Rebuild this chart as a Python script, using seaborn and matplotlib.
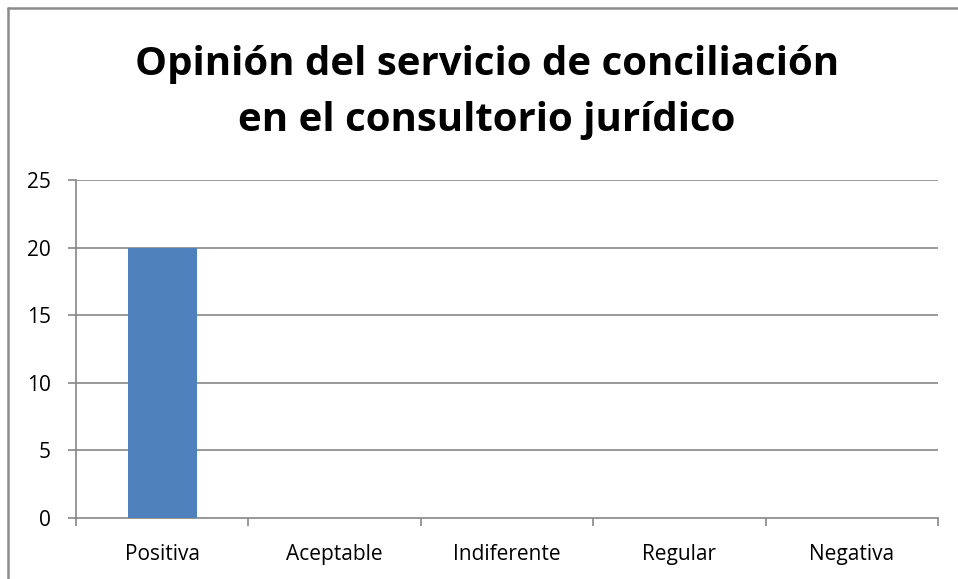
import matplotlib
matplotlib.use("Agg")
import matplotlib.pyplot as plt
import seaborn as sns
import pandas as pd
from matplotlib.lines import Line2D

categories = ["Positiva", "Aceptable", "Indiferente", "Regular", "Negativa"]
values = [20, 0, 0, 0, 0]
yticks = [0, 5, 10, 15, 20, 25]
title_lines = ["Opinión del servicio de conciliación", "en el consultorio jurídico"]

sns.set_theme(style="white")
plt.rcParams["font.family"] = ["Open Sans", "DejaVu Sans"]

W, H = 958, 579
fig = plt.figure(figsize=(W / 100, H / 100), dpi=100)
ax = fig.add_axes([76 / W, 1 - 518 / H, (938 - 76) / W, (518 - 180) / H])

df = pd.DataFrame({"cat": categories, "val": values})
sns.barplot(data=df, x="cat", y="val", color="#4F81BD", saturation=1, width=0.4,
            linewidth=0, edgecolor="none", ax=ax, zorder=3)

ax.set_xlim(-0.5, len(categories) - 0.5)
ax.set_ylim(0, 25)
ax.set_yticks(yticks)
ax.set_yticklabels([str(t) for t in yticks], fontsize=15, color="black")
ax.set_xticks(range(len(categories)))
ax.set_xticklabels(categories, fontsize=15, color="black")
ax.set_xlabel("")
ax.set_ylabel("")

grid_c = "#868686"
for t in yticks[1:]:
    ax.axhline(t, color=grid_c, lw=1.2, zorder=1)
for s in ["top", "right"]:
    ax.spines[s].set_visible(False)
for s in ["left", "bottom"]:
    ax.spines[s].set_color(grid_c)
    ax.spines[s].set_linewidth(1.2)

ax.tick_params(axis="y", length=6, width=1.2, color=grid_c, pad=12, left=True)
ax.tick_params(axis="x", length=0, pad=19)
ax.set_xticks([i - 0.5 for i in range(len(categories) + 1)], minor=True)
ax.tick_params(axis="x", which="minor", length=6, width=1.2, color=grid_c, bottom=True)

for txt, base in zip(title_lines, [75, 131]):
    fig.text(487 / W, 1 - base / H, txt, ha="center", va="baseline", fontsize=29,
             fontweight="bold", color="black")

border_c = "#8C8C8C"
fig.add_artist(Line2D([7.5 / W, 1.0], [1 - 7.5 / H, 1 - 7.5 / H], color=border_c, lw=1.8, transform=fig.transFigure))
fig.add_artist(Line2D([7.5 / W, 7.5 / W], [0, 1 - 7.5 / H], color=border_c, lw=1.8, transform=fig.transFigure))

fig.savefig("out.png", dpi=100, facecolor="white")
